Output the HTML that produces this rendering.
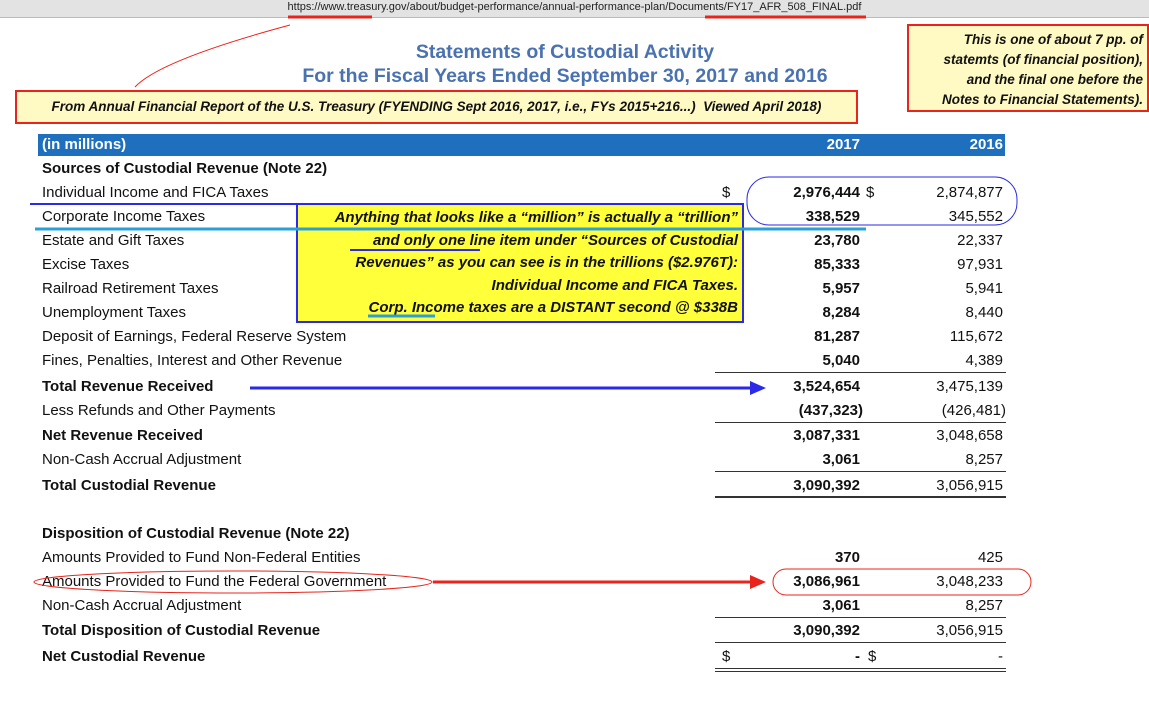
<!DOCTYPE html>
<html><head><meta charset="utf-8"><style>
body{margin:0;width:1149px;height:704px;background:#fff;position:relative;overflow:hidden;font-family:"Liberation Sans",sans-serif;}
.a{position:absolute;white-space:nowrap;}
.lab{position:absolute;left:42px;font-size:15px;color:#111;line-height:18px;}
.b{font-weight:bold;}
.v{position:absolute;font-size:15px;line-height:18px;text-align:right;color:#111;}
.v1{right:289px;font-weight:bold;}
.v2{right:146px;}
.rule{position:absolute;left:715px;width:291px;height:1px;background:#333;}
</style></head><body>
<div class="a" style="left:0;top:0;width:1149px;height:17px;background:#e3e3e3;border-bottom:1px solid #bbb;"></div>
<div class="a" style="left:0;top:1px;width:1149px;text-align:center;font-size:11px;color:#222;">https://www.treasury.gov/about/budget-performance/annual-performance-plan/Documents/FY17_AFR_508_FINAL.pdf</div>
<div class="a" style="left:250px;top:40px;width:630px;text-align:center;font-size:19.5px;font-weight:bold;color:#4a72b0;line-height:24px;">Statements of Custodial Activity<br>For the Fiscal Years Ended September 30, 2017 and 2016</div>
<div class="a" style="left:15px;top:90px;width:839px;height:30px;border:2px solid #e8241c;background:#fff9c4;font-size:13.5px;font-weight:bold;font-style:italic;line-height:30px;text-align:center;color:#111;">From Annual Financial Report of the U.S. Treasury (FYENDING Sept 2016, 2017, i.e., FYs 2015+216...)&nbsp; Viewed April 2018)</div>
<div class="a" style="left:907px;top:24px;width:234px;border:2px solid #e8241c;background:#fff9c4;font-size:13.5px;font-weight:bold;font-style:italic;line-height:20px;text-align:right;padding-right:4px;padding-top:4px;box-sizing:content-box;height:80px;color:#111;">This is one of about 7 pp. of<br>statemts (of financial position),<br>and the final one before the<br>Notes to Financial Statements).</div>
<div class="a" style="left:38px;top:134px;width:967px;height:22px;background:#1f6fbf;"></div>
<div class="a b" style="left:42px;top:136px;color:#fff;font-size:15px;font-weight:bold;">(in millions)</div>
<div class="a" style="right:289px;top:136px;color:#fff;font-size:15px;font-weight:bold;">2017</div>
<div class="a" style="right:146px;top:136px;color:#fff;font-size:15px;font-weight:bold;">2016</div>
<div id="rows"></div>
<div class="a" style="left:296px;top:203px;width:440px;border:2px solid #2a2ae8;background:#ffff3a;font-size:15px;font-weight:bold;font-style:italic;line-height:22.6px;text-align:right;padding-right:4px;color:#111;padding-top:2px;box-sizing:content-box;height:114px;">Anything that looks like a “million” is actually a “trillion”<br>and only one line item under “Sources of Custodial<br>Revenues” as you can see is in the trillions ($2.976T):<br>Individual Income and FICA Taxes.<br>Corp. Income taxes are a DISTANT second @ $338B</div>
<svg class="a" style="left:0;top:0" width="1149" height="704">
<line x1="288" y1="17" x2="372" y2="17" stroke="#e8241c" stroke-width="3"/>
<line x1="705" y1="17" x2="866" y2="17" stroke="#e8241c" stroke-width="3"/>
<path d="M290 25 Q160 60 135 87" fill="none" stroke="#e8241c" stroke-width="1"/>
<line x1="30" y1="204" x2="296" y2="204" stroke="#2a2ae8" stroke-width="2"/>
<line x1="35" y1="229" x2="866" y2="229" stroke="#2aa0d8" stroke-width="3"/>
<line x1="350" y1="250" x2="480" y2="250" stroke="#2a2ae8" stroke-width="2"/>
<line x1="368" y1="316" x2="435" y2="316" stroke="#2aa0d8" stroke-width="3"/>
<rect x="747" y="177" width="270" height="48" rx="22" fill="none" stroke="#2a2ae8" stroke-width="1"/>
<line x1="250" y1="388" x2="752" y2="388" stroke="#2a2ae8" stroke-width="3"/>
<polygon points="750,381 766,388 750,395" fill="#2a2ae8"/>
<ellipse cx="233" cy="582" rx="199" ry="11" fill="none" stroke="#e8241c" stroke-width="1"/>
<rect x="773" y="569" width="258" height="26" rx="13" fill="none" stroke="#e8241c" stroke-width="1"/>
<line x1="433" y1="582" x2="752" y2="582" stroke="#e8241c" stroke-width="3"/>
<polygon points="750,575 766,582 750,589" fill="#e8241c"/>
</svg>
<script>
const labels=["Sources of Custodial Revenue (Note 22)","Individual Income and FICA Taxes","Corporate Income Taxes","Estate and Gift Taxes","Excise Taxes","Railroad Retirement Taxes","Unemployment Taxes","Deposit of Earnings, Federal Reserve System","Fines, Penalties, Interest and Other Revenue","Total Revenue Received","Less Refunds and Other Payments","Net Revenue Received","Non-Cash Accrual Adjustment","Total Custodial Revenue","Disposition of Custodial Revenue (Note 22)","Amounts Provided to Fund Non-Federal Entities","Amounts Provided to Fund the Federal Government","Non-Cash Accrual Adjustment","Total Disposition of Custodial Revenue","Net Custodial Revenue"];
const vals2017=["","2,976,444","338,529","23,780","85,333","5,957","8,284","81,287","5,040","3,524,654","(437,323)","3,087,331","3,061","3,090,392","","370","3,086,961","3,061","3,090,392","-"];
const vals2016=["","2,874,877","345,552","22,337","97,931","5,941","8,440","115,672","4,389","3,475,139","(426,481)","3,048,658","8,257","3,056,915","","425","3,048,233","8,257","3,056,915","-"];
const bold=[0,9,11,13,14,18,19];
const ys=[160,184,208,232,256,280,304,328,352,378,402,427,451,477,525,549,573,597,622,648];
const rows=document.getElementById('rows');
labels.forEach((l,i)=>{
 const d=document.createElement('div');d.className='lab'+(bold.includes(i)?' b':'');d.style.top=ys[i]+'px';d.textContent=l;
 
 
 rows.appendChild(d);
 const a=document.createElement('div');a.className='v v1';a.style.top=ys[i]+'px';a.textContent=vals2017[i];
 if(i==10){a.style.right='286px';}
 
 
 rows.appendChild(a);
 const b=document.createElement('div');b.className='v v2';b.style.top=ys[i]+'px';b.textContent=vals2016[i];
 if(i==10){b.style.right='143px';}
 
 
 rows.appendChild(b);
});
[[1,722],[1,866],[19,722],[19,868]].forEach(([i,x])=>{
 const s=document.createElement('div');s.className='v';s.style.left=x+'px';s.style.top=ys[i]+'px';s.textContent='$';
 
 
 rows.appendChild(s);
});
[[372,1],[422,1],[471,1],[496,2],[617,1],[642,1],[668,1],[671,1]].forEach(([y,h])=>{
 const r=document.createElement('div');r.className='rule';r.style.top=y+'px';r.style.height=h+'px';
 
 
 rows.appendChild(r);
});
</script>
</body></html>
